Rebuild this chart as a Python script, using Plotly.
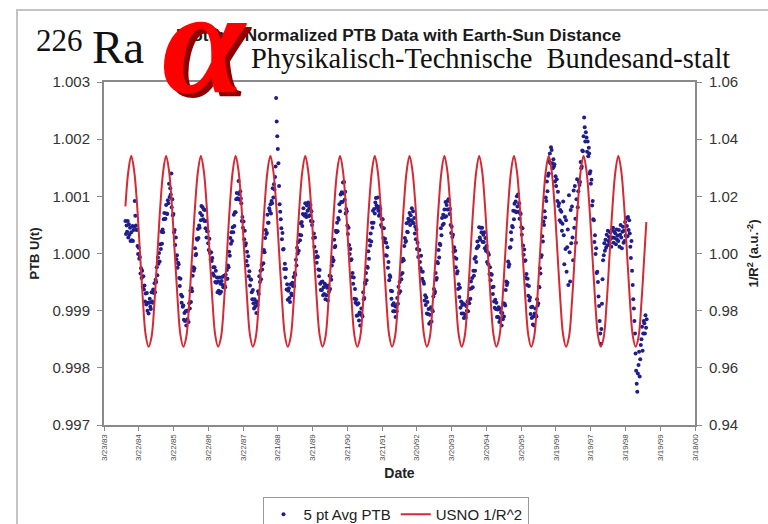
import plotly.graph_objects as go

# ---------------------------------------------------------------------------
# Date axis: one labelled tick every 365 days
# ---------------------------------------------------------------------------
tick_dates = [
    "1983-03-23", "1984-03-22", "1985-03-22", "1986-03-22", "1987-03-22",
    "1988-03-21", "1989-03-21", "1990-03-21", "1991-03-21", "1992-03-20",
    "1993-03-20", "1994-03-20", "1995-03-20", "1996-03-19", "1997-03-19",
    "1998-03-19", "1999-03-19", "2000-03-18",
]
tick_labels = [
    "3/23/83", "3/22/84", "3/22/85", "3/22/86", "3/22/87", "3/21/88",
    "3/21/89", "3/21/90", "3/21/91", "3/20/92", "3/20/93", "3/20/94",
    "3/20/95", "3/19/96", "3/19/97", "3/19/98", "3/19/99", "3/18/00",
]

# ---------------------------------------------------------------------------
# 5 pt averaged PTB U(t), five readings per month (days 3, 9, 15, 21, 27),
# stored as the deviation from 1 in units of 1e-5.
# ---------------------------------------------------------------------------
ptb_1983 = [  # Nov-Dec
    57, 34, 49, 38, 57,   28, 51, 33, 45, 22,
]
ptb_1984 = [
    37, 23, 48, 22, 41,   47, 92, 66, 49, 41,   42, 13, -1, 10, -9,
    -6, -35, -26, -43, -30,   -58, -40, -63, -56, -84,   -70, -89, -69, -100, -86,
    -105, -86, -79, -93, -97,   -68, -84, -86, -63, -69,   -52, -68, -46, -50, -24,
    -38, -7, -18, 1, -14,   16, 8, 38, 17, 42,   37, 60, 71, 61, 61,
]
ptb_1985 = [
    85, 70, 69, 93, 88,   122, 99, 114, 103, 140,   81, 95, 67, 69, 37,
    41, 15, 28, -10, -3,   -25, -16, -19, -43, -57,   -44, -72, -86, -75, -93,
    -91, -116, -104, -118, -101,   -126, -100, -115, -100, -120,   -87, -96, -65, -85, -61,
    -66, -39, -24, -30, -26,   9, -3, -1, 26, 24,   43, 27, 49, 45, 71,
]
ptb_1986 = [
    58, 83, 67, 81, 60,   77, 57, 76, 44, 57,   28, 39, 39, 18, 6,
    26, 1, -11, 2, -13,   -8, -35, -24, -39, -24,   -50, -30, -51, -42, -68,
    -49, -65, -42, -70, -53,   -67, -48, -41, -55, -59,   -39, -56, -59, -37, -44,
    -29, -44, -21, -24, 3,   -4, 27, 17, 37, 22,   46, 37, 68, 48, 72,
]
ptb_1987 = [
    72, 95, 106, 96, 96,   127, 104, 94, 109, 96,   88, 57, 64, 45, 56,
    25, 40, 14, 18, -13,   3, -21, -5, -40, -31,   -56, -45, -46, -68, -80,
    -64, -87, -96, -80, -93,   -86, -104, -84, -90, -66,   -71, -40, -50, -30, -45,
    -20, -28, 3, -17, 6,   2, 27, 41, 34, 36,   68, 54, 54, 79, 75,
]
ptb_1988 = [
    86, 70, 92, 88, 114,   98, 121, 112, 134, 152,   272, 231, 205, 183, 158,
    118, 86, 73, 60, 44,   25, 36, 7, 8, -27,   -18, -42, -27, -63, -54,
    -81, -65, -61, -78, -85,   -54, -70, -73, -51, -57,   -41, -57, -34, -37, -11,
    -21, 10, 0, 20, 5,   33, 23, 53, 32, 55,   48, 69, 79, 68, 66,
]
ptb_1989 = [
    88, 69, 64, 84, 75,   89, 65, 79, 67, 85,   57, 74, 50, 56, 27,
    35, 12, 28, -7, 3,   -16, -5, -6, -28, -40,   -29, -53, -64, -50, -64,
    -49, -73, -59, -71, -53,   -80, -56, -73, -60, -82,   -56, -67, -39, -62, -40,
    -46, -21, -7, -14, -12,   24, 11, 13, 40, 37,   54, 39, 62, 59, 86,
]
ptb_1990 = [
    74, 103, 90, 107, 90,   124, 105, 125, 94, 108,   70, 78, 74, 49, 34,
    45, 15, -1, 8, -12,   -10, -41, -34, -53, -42,   -79, -62, -86, -80, -109,
    -89, -108, -87, -117, -103,   -126, -105, -96, -108, -110,   -68, -80, -78, -51, -53,
    -34, -47, -23, -25, 4,   -9, 23, 14, 35, 21,   54, 45, 75, 54, 78,
]
ptb_1991 = [
    70, 89, 97, 84, 80,   98, 75, 66, 82, 69,   78, 50, 61, 46, 60,
    27, 44, 20, 26, -3,   19, -4, 11, -25, -15,   -47, -38, -41, -65, -79,
    -66, -90, -101, -87, -101,   -92, -111, -93, -101, -78,   -88, -58, -69, -50, -66,
    -37, -45, -14, -34, -9,   -12, 13, 27, 20, 22,   53, 38, 37, 61, 56,
]
ptb_1992 = [
    71, 50, 67, 58, 79,   55, 74, 53, 62, 35,   47, 25, 42, 8, 19,
    -6, 6, 6, -15, -26,   -4, -31, -44, -32, -49,   -53, -82, -73, -90, -77,
    -105, -85, -106, -97, -123,   -107, -120, -94, -119, -99,   -101, -75, -62, -70, -67,
    -34, -46, -43, -15, -17,   6, -7, 17, 15, 44,   32, 62, 50, 68, 52,
]
ptb_1993 = [
    77, 64, 90, 65, 85,   77, 92, 95, 77, 69,   78, 50, 36, 47, 29,
    33, 3, 11, -7, 5,   -24, -9, -35, -31, -62,   -54, -76, -60, -95, -84,
    -105, -90, -87, -105, -113,   -89, -107, -112, -92, -100,   -84, -101, -81, -87, -62,
    -79, -49, -61, -43, -59,   -30, -39, -9, -30, -6,   -15, 9, 21, 12, 13,
]
ptb_1994 = [
    46, 28, 24, 45, 37,   45, 20, 33, 20, 37,   9, 27, 5, 13, -15,
    2, -19, -2, -36, -24,   -47, -36, -37, -59, -71,   -58, -84, -95, -81, -97,
    -86, -111, -98, -111, -94,   -120, -97, -115, -103, -126,   -104, -115, -87, -110, -88,
    -91, -64, -49, -55, -51,   -14, -23, -19, 10, 11,   37, 24, 48, 46, 75,
]
ptb_1995 = [
    60, 87, 74, 91, 72,   100, 82, 103, 73, 88,   61, 71, 69, 46, 33,
    44, 14, -2, 7, -13,   -12, -43, -36, -55, -44,   -74, -57, -82, -77, -106,
    -94, -113, -93, -124, -110,   -126, -105, -96, -108, -110,   -80, -91, -87, -58, -59,
    -26, -35, -6, -3, 30,   21, 56, 50, 74, 63,   98, 92, 126, 109, 136,
]
ptb_1996 = [
    140, 162, 175, 158, 186,   181, 158, 149, 165, 152,   156, 126, 135, 118, 130,
    92, 108, 83, 88, 58,   76, 55, 73, 40, 52,   91, 32, -19, 64, 8,
    58, -32, 11, 42, -55,   102, 2, -49, 76, 18,   82, 28, -12, 110, 45,
    118, 61, 19, 95, 130,   81, 109, 125, 120, 125,   160, 149, 152, 180, 179,
]
ptb_1997 = [
    205, 238, 221, 196, 212,   203, 178, 196, 170, 185,   175, 140, 144, 122, 129,
    84, 92, 60, 58, 20,   32, -1, 9, -34, -32,   -50, -75, -92, -118, -140,
    -158, -132, -88, -45, -12,   -3, 18, 5, 24, 10,   33, 14, 40, 22, 29,
    18, 37, 26, 12, 41,   28, 45, 19, 38, 27,   35, 16, 42, 24, 31,
]
ptb_1998 = [  # Jan-Oct
    22, 41, 12, 33, 50,   28, 9, 38, 47, 19,   40, 22, 55, 31, 62,
    48, 30, 64, 41, 58,   35, 12, -8, 22, -30,   -55, -80, -96, -118, -140,
    -175, -205, -228, -242, -210,   -195, -172, -215, -185, -160,   -150, -128, -170, -140, -118,
    -122, -140, -108, -130, -115,
]

# ---------------------------------------------------------------------------
# USNO 1/R^2, one value on the 3rd of each month (Nov 1983 - Oct 1998)
# ---------------------------------------------------------------------------
usno_values = [
    1.0165, 1.0286,
    1.0342, 1.0288, 1.0177, 1.0008, 0.9843, 0.9714, 0.9674, 0.9708, 0.9830, 0.9994, 1.0165, 1.0286,
    1.0342, 1.0288, 1.0177, 1.0008, 0.9843, 0.9714, 0.9674, 0.9708, 0.9830, 0.9994, 1.0165, 1.0286,
    1.0342, 1.0288, 1.0177, 1.0008, 0.9843, 0.9714, 0.9674, 0.9708, 0.9830, 0.9994, 1.0165, 1.0286,
    1.0342, 1.0288, 1.0177, 1.0008, 0.9843, 0.9714, 0.9674, 0.9708, 0.9830, 0.9994, 1.0165, 1.0286,
    1.0342, 1.0288, 1.0177, 1.0008, 0.9843, 0.9714, 0.9674, 0.9708, 0.9830, 0.9994, 1.0165, 1.0286,
    1.0342, 1.0288, 1.0177, 1.0008, 0.9843, 0.9714, 0.9674, 0.9708, 0.9830, 0.9994, 1.0165, 1.0286,
    1.0342, 1.0288, 1.0177, 1.0008, 0.9843, 0.9714, 0.9674, 0.9708, 0.9830, 0.9994, 1.0165, 1.0286,
    1.0342, 1.0288, 1.0177, 1.0008, 0.9843, 0.9714, 0.9674, 0.9708, 0.9830, 0.9994, 1.0165, 1.0286,
    1.0342, 1.0288, 1.0177, 1.0008, 0.9843, 0.9714, 0.9674, 0.9708, 0.9830, 0.9994, 1.0165, 1.0286,
    1.0342, 1.0288, 1.0177, 1.0008, 0.9843, 0.9714, 0.9674, 0.9708, 0.9830, 0.9994, 1.0165, 1.0286,
    1.0342, 1.0288, 1.0177, 1.0008, 0.9843, 0.9714, 0.9674, 0.9708, 0.9830, 0.9994, 1.0165, 1.0286,
    1.0342, 1.0288, 1.0177, 1.0008, 0.9843, 0.9714, 0.9674, 0.9708, 0.9830, 0.9994, 1.0165, 1.0286,
    1.0342, 1.0288, 1.0177, 1.0008, 0.9843, 0.9714, 0.9674, 0.9708, 0.9830, 0.9994, 1.0165, 1.0286,
    1.0342, 1.0288, 1.0177, 1.0008, 0.9843, 0.9714, 0.9674, 0.9708, 0.9830, 0.9994, 1.0165, 1.0286,
    1.0342, 1.0288, 1.0177, 1.0008, 0.9843, 0.9714, 0.9674, 0.9708, 0.9830, 0.9994,
]
usno_last_date = "1998-10-24"
usno_last_value = 1.0110

PTB_DAYS = (3, 9, 15, 21, 27)
PTB_UNIT = 1e-5


def month_days(year, first_month, n_months, days):
    """Date strings for the given days of consecutive months of one year."""
    out = []
    for m in range(first_month, first_month + n_months):
        for d in days:
            out.append(f"{year}-{m:02d}-{d:02d}")
    return out


ptb_by_year = [
    (1983, 11, ptb_1983), (1984, 1, ptb_1984), (1985, 1, ptb_1985),
    (1986, 1, ptb_1986), (1987, 1, ptb_1987), (1988, 1, ptb_1988),
    (1989, 1, ptb_1989), (1990, 1, ptb_1990), (1991, 1, ptb_1991),
    (1992, 1, ptb_1992), (1993, 1, ptb_1993), (1994, 1, ptb_1994),
    (1995, 1, ptb_1995), (1996, 1, ptb_1996), (1997, 1, ptb_1997),
    (1998, 1, ptb_1998),
]
ptb_x, ptb_y = [], []
for year, first, devs in ptb_by_year:
    ptb_x += month_days(year, first, len(devs) // len(PTB_DAYS), PTB_DAYS)
    ptb_y += [1.0 + d * PTB_UNIT for d in devs]

usno_x = month_days(1983, 11, 2, (3,))
for year in range(1984, 1998):
    usno_x += month_days(year, 1, 12, (3,))
usno_x += month_days(1998, 1, 10, (3,))
usno_x.append(usno_last_date)
usno_y = usno_values + [usno_last_value]

# ---------------------------------------------------------------------------
# Figure
# ---------------------------------------------------------------------------
W, H = 768, 524
L, R, T, B = 104, 73, 82, 99
PW, PH = W - L - R, H - T - B


def px(x):
    return (x - L) / PW


def py(y):
    return (H - B - y) / PH


SANS = "Liberation Sans"
SERIF = "Liberation Serif"
AXIS_GRAY = "#8a8a8a"
TEXT = "#333333"

fig = go.Figure()
fig.add_trace(go.Scatter(
    x=ptb_x, y=ptb_y, mode="markers", name="5 pt Avg PTB",
    marker=dict(size=4, color="#1e1e8c"), yaxis="y",
))
fig.add_trace(go.Scatter(
    x=usno_x, y=usno_y, mode="lines", name="USNO 1/R^2",
    line=dict(color="#d42a35", width=2, shape="spline", smoothing=1.0),
    yaxis="y2",
))

fig.update_layout(
    template="none",
    width=W, height=H,
    margin=dict(l=L, r=R, t=T, b=B),
    paper_bgcolor="white", plot_bgcolor="white",
    font=dict(family=SANS, color=TEXT),
    showlegend=True,
    legend=dict(
        orientation="h", xref="paper", x=px(395.5), xanchor="center",
        yref="container", y=1 - 497 / H, yanchor="top",
        bgcolor="white", bordercolor="#9a9a9a", borderwidth=1,
        font=dict(family=SANS, size=15, color="#222222"),
        itemwidth=30, tracegroupgap=0,
    ),
    xaxis=dict(
        type="date", range=["1983-03-23", "2000-03-18"],
        tickmode="array", tickvals=tick_dates, ticktext=tick_labels,
        tickangle=-90, tickfont=dict(family=SANS, size=8, color="#4a4a4a"),
        ticks="outside", ticklen=4, tickcolor=AXIS_GRAY, tickwidth=1,
        showline=True, linecolor=AXIS_GRAY, linewidth=2, mirror=True,
        showgrid=False, zeroline=False, automargin=False,
        title=dict(text="<b>Date</b>", font=dict(family=SANS, size=14, color="#222222"),
                   standoff=8),
    ),
    yaxis=dict(
        range=[0.997, 1.003], tick0=0.997, dtick=0.001, tickformat=".3f",
        tickfont=dict(family=SANS, size=15, color=TEXT),
        ticks="outside", ticklen=5, tickcolor=AXIS_GRAY, ticklabelstandoff=4,
        showline=True, linecolor=AXIS_GRAY, linewidth=2,
        showgrid=False, zeroline=False, automargin=False,
        title=dict(text="<b>PTB U(t)</b>", font=dict(family=SANS, size=13, color="#222222"),
                   standoff=10),
    ),
    yaxis2=dict(
        range=[0.94, 1.06], tick0=0.94, dtick=0.02, tickformat=".2f",
        overlaying="y", side="right",
        tickfont=dict(family=SANS, size=15, color=TEXT),
        ticks="outside", ticklen=5, tickcolor=AXIS_GRAY, ticklabelstandoff=4,
        showline=True, linecolor=AXIS_GRAY, linewidth=2,
        showgrid=False, zeroline=False, automargin=False,
        title=dict(text="<b>1/R<sup>2</sup> (a.u.<sup>-2</sup>)</b>",
                   font=dict(family=SANS, size=13, color="#222222"), standoff=12),
    ),
)

# chart-area border
fig.add_shape(type="rect", xref="paper", yref="paper",
              x0=px(17), x1=px(790), y0=py(545), y1=py(10),
              line=dict(color="#c4c4c4", width=2), fillcolor="rgba(0,0,0,0)",
              layer="below")

annotations = [
    # chart title
    dict(text="<b>Plotting Normalized PTB Data with Earth-Sun Distance</b>",
         x=px(623), y=py(35), xanchor="right", yanchor="middle",
         font=dict(family=SANS, size=17.2, color="#1a1a1a")),
    # nuclide label
    dict(text="226", x=px(34), y=py(40), xanchor="left", yanchor="middle",
         font=dict(family=SERIF, size=31, color="#111111")),
    dict(text="Ra", x=px(90), y=py(47), xanchor="left", yanchor="middle",
         font=dict(family=SERIF, size=47, color="#111111")),
    # institute name
    dict(text="Physikalisch-Technische\u00a0 Bundesand-stalt",
         x=px(249), y=py(59), xanchor="left", yanchor="middle",
         font=dict(family=SERIF, size=28.5, color="#111111")),
    # alpha emblem: dark shadow then red face
    dict(text="<b><i>α</i></b>", x=px(209), y=py(46), xanchor="center", yanchor="middle",
         font=dict(family=SERIF, size=150, color="#8f0000")),
    dict(text="<b><i>α</i></b>", x=px(204), y=py(42), xanchor="center", yanchor="middle",
         font=dict(family=SERIF, size=150, color="#ff0000")),
]
for a in annotations:
    a.update(xref="paper", yref="paper", showarrow=False)
fig.update_layout(annotations=annotations)

fig.write_html("out.html")
